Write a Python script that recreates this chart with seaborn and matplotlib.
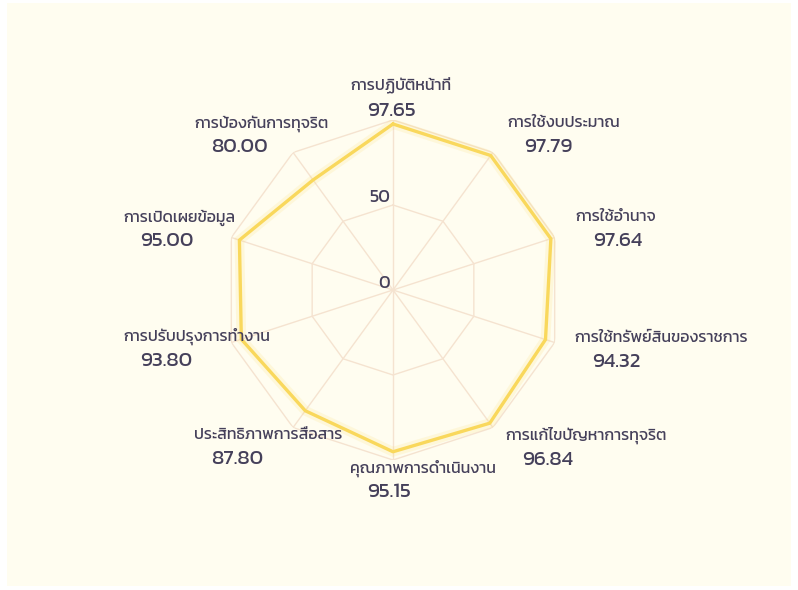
import numpy as np
import seaborn as sns
import matplotlib.pyplot as plt
from matplotlib.patches import Rectangle

# data (clockwise from the top)
categories = ["การปฏิบัติหน้าที่", "การใช้งบประมาณ", "การใช้อำนาจ",
              "การใช้ทรัพย์สินของราชการ", "การแก้ไขปัญหาการทุจริต",
              "คุณภาพการดำเนินงาน", "ประสิทธิภาพการสื่อสาร",
              "การปรับปรุงการทำงาน", "การเปิดเผยข้อมูล", "การป้องกันการทุจริต"]
scores = [97.65, 97.79, 97.64, 94.32, 96.84, 95.15, 87.80, 93.80, 95.00, 80.00]
rings = [50, 100]
ring_labels = ["0", "50"]

sns.set_style("white")
plt.rcParams['font.family'] = ['Kanit', 'Prompt', 'Noto Sans Thai', 'DejaVu Sans']

LINE = "#f9d85c"
GRID = "#f5e3d0"
TXT = "#45405a"
BG = "#fffdf0"

fig = plt.figure(figsize=(7.98, 5.90), dpi=100, facecolor="white")
W, H = 798, 590
fig.patches.append(Rectangle((7 / W, 4 / H), 784 / W, 583 / H, transform=fig.transFigure,
                             facecolor=BG, edgecolor="none", zorder=-10))

# polar axes: centre (393, 290) px, radius 170 px for r=100
cx, cy, R = 393, 290, 170
ax = fig.add_axes([(cx - R) / W, (H - cy - R) / H, 2 * R / W, 2 * R / H], projection="polar")
ax.set_facecolor("none")
ax.set_theta_zero_location("N")
ax.set_theta_direction(-1)

n = len(categories)
angles = np.arange(n) * 2 * np.pi / n
closed_t = np.append(angles, 2 * np.pi)

# grid: decagon rings + spokes
for r in rings:
    ax.plot(closed_t, [r] * (n + 1), color=GRID, lw=1.0, zorder=1)
for a in angles:
    ax.plot([a, a], [0, 100], color=GRID, lw=1.0, zorder=1)

# series with a soft glow
closed_v = np.append(scores, scores[0])
ax.plot(closed_t, closed_v, color=LINE, lw=7, alpha=0.15, zorder=2, solid_joinstyle="miter")
sns.lineplot(x=closed_t, y=closed_v, sort=False, estimator=None, ax=ax,
             color=LINE, lw=2.4, zorder=3)

ax.set_ylim(0, 100)
ax.set_xticks([])
ax.set_yticks([])
ax.set_xlabel("")
ax.set_ylabel("")
ax.grid(False)
ax.spines["polar"].set_visible(False)

# ring value labels
for val, lab, dy in [(0, ring_labels[0], 6), (50, ring_labels[1], 8)]:
    ax.annotate(lab, xy=(0, val), xytext=(-3, dy), textcoords="offset pixels",
                ha="right", va="center", fontsize=13, color=TXT)

# category labels: offset (px) of the name baseline from the outer vertex
offsets = [(-43, -29.5), (14, -25), (21, -16), (20, -1), (12, 12),
           (-43, 12.5), (-99, 11), (-108, -2), (-108, -16), (-99, -25)]
for a, name, v, (dx, dy) in zip(angles, categories, scores, offsets):
    ax.annotate(name, xy=(a, 100), xytext=(dx, -dy), textcoords="offset pixels",
                ha="left", va="baseline", fontsize=11.5, color=TXT,
                annotation_clip=False)
    ax.annotate("%.2f" % v, xy=(a, 100), xytext=(dx + 17, -dy - 25), textcoords="offset pixels",
                ha="left", va="baseline", fontsize=15, color=TXT,
                annotation_clip=False)

fig.savefig("out.png", dpi=100, facecolor="white")
